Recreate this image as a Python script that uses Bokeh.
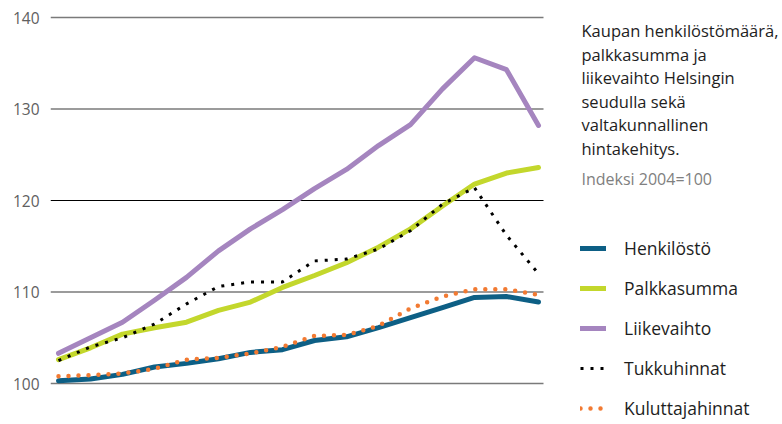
from bokeh.plotting import figure
from bokeh.models import Range1d, FixedTicker, Legend, LegendItem, Label
from bokeh.embed import file_html
from bokeh.resources import INLINE

periods = list(range(16))
henkilosto = [100.3, 100.5, 101.0, 101.8, 102.2, 102.7, 103.4, 103.7,
              104.7, 105.1, 106.1, 107.2, 108.3, 109.4, 109.5, 108.9]
palkkasumma = [102.6, 103.9, 105.4, 106.1, 106.7, 108.0, 108.9, 110.5,
               111.8, 113.2, 114.9, 116.9, 119.4, 121.8, 123.0, 123.6]
liikevaihto = [103.3, 105.0, 106.7, 109.1, 111.6, 114.5, 116.9, 119.0,
               121.3, 123.4, 126.0, 128.3, 132.2, 135.6, 134.3, 128.2]
tukkuhinnat = [102.5, 104.0, 105.0, 106.5, 108.7, 110.6, 111.1, 111.1,
               113.4, 113.6, 114.7, 116.7, 119.6, 121.4, 116.2, 112.0]
kuluttajahinnat = [100.8, 100.9, 101.1, 101.6, 102.6, 102.8, 103.3, 104.0,
                   105.2, 105.3, 106.3, 108.2, 109.5, 110.3, 110.3, 109.7]
y_ticks = [100, 110, 120, 130, 140]
series_names = ["Henkilöstö", "Palkkasumma", "Liikevaihto", "Tukkuhinnat", "Kuluttajahinnat"]
title_lines = ["Kaupan henkilöstömäärä,", "palkkasumma ja", "liikevaihto Helsingin",
               "seudulla sekä", "valtakunnallinen", "hintakehitys."]
subtitle = "Indeksi 2004=100"

FONT = "Open Sans"
TXT = "#1e1e1e"
W, H = 782, 424
LEFT = 50
PX_X, PX_Y = 32.0, 9.15      # pixels per period / per index point
X0_PIX, Y100_PIX = 58, 383   # where period 0 and index 100 sit

x_start = -(X0_PIX - LEFT) / PX_X
x_end = x_start + (W - LEFT) / PX_X
y_start = 100 - (H - Y100_PIX) / PX_Y
y_end = 100 + Y100_PIX / PX_Y
grid_x_end = (543 - X0_PIX) / PX_X

p = figure(width=W, height=H, output_backend="svg", toolbar_location=None,
           x_range=Range1d(x_start, x_end), y_range=Range1d(y_start, y_end),
           min_border_left=LEFT, min_border_right=0, min_border_top=0,
           min_border_bottom=0)
p.outline_line_color = None
p.background_fill_color = "white"
p.border_fill_color = "white"

p.xaxis.visible = False
p.xgrid.visible = False
p.ygrid.visible = False
ax = p.yaxis[0]
ax.ticker = FixedTicker(ticks=y_ticks)
ax.axis_line_color = None
ax.major_tick_line_color = None
ax.minor_tick_line_color = None
ax.major_tick_out = 0
ax.major_tick_in = 0
ax.minor_tick_out = 0
ax.major_label_text_font = FONT
ax.major_label_text_font_size = "15.5px"
ax.major_label_text_color = "#606060"
ax.major_label_standoff = 11

grid_colors = ["black" if t == 120 else "#7a7a7a" for t in y_ticks]
grid_widths = [1.2 if t == 120 else 1.6 for t in y_ticks]
p.segment(x0=[x_start] * len(y_ticks), y0=y_ticks, x1=[grid_x_end] * len(y_ticks), y1=y_ticks,
          line_color=grid_colors, line_width=grid_widths)

r_liike = p.line(periods, liikevaihto, line_color="#a585bf", line_width=5, line_join="round", line_cap="round")
r_palkka = p.line(periods, palkkasumma, line_color="#c3d72c", line_width=5, line_join="round", line_cap="round")
r_henk = p.line(periods, henkilosto, line_color="#0d5f85", line_width=5, line_join="round", line_cap="round")
r_tukku = p.line(periods, tukkuhinnat, line_color="black", line_width=3, line_dash="3 7", line_cap="butt")
r_kulu = p.line(periods, kuluttajahinnat, line_color="#f27a32", line_width=4.5, line_dash="0 10", line_cap="round")

legend = Legend(items=[LegendItem(label=n, renderers=[r]) for n, r in
                       zip(series_names, [r_henk, r_palkka, r_liike, r_tukku, r_kulu])],
                location=(530, 4), orientation="vertical",
                glyph_width=26, glyph_height=24, label_height=24, spacing=16,
                label_standoff=18, padding=0, margin=0,
                label_text_font=FONT, label_text_font_size="17.5px", label_text_color=TXT,
                border_line_color=None, background_fill_alpha=0)
p.add_layout(legend, "center")

for i, t in enumerate(title_lines):
    p.add_layout(Label(x=531, y=H - (30 + 23.6 * i), x_units="screen", y_units="screen",
                       text=t, text_font=FONT, text_font_size="16.5px", text_color=TXT,
                       text_baseline="alphabetic"))
p.add_layout(Label(x=531, y=H - 178, x_units="screen", y_units="screen",
                   text=subtitle, text_font=FONT, text_font_size="16px", text_color="#808080",
                   text_baseline="alphabetic"))

open("out.html", "w").write(file_html(p, INLINE))
